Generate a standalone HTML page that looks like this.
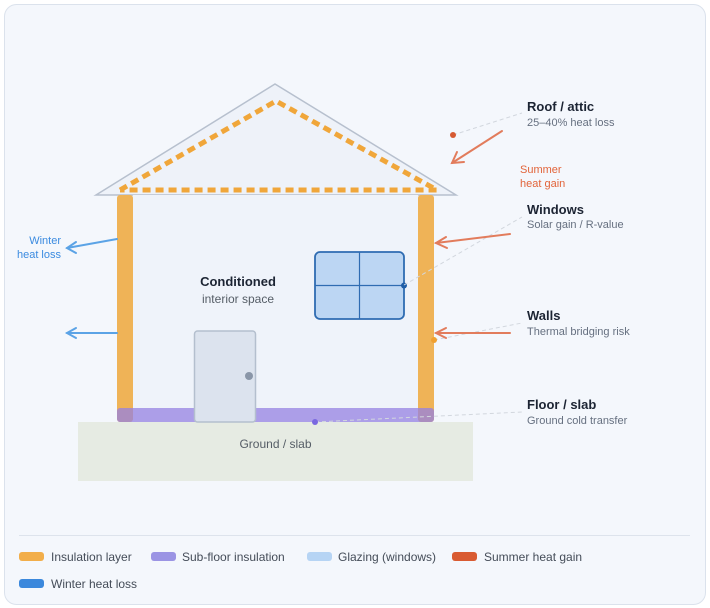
<!DOCTYPE html>
<html><head><meta charset="utf-8"><style>
html,body{margin:0;padding:0;background:#fff;}
svg{display:block;font-family:"Liberation Sans",sans-serif;}
</style></head><body>
<svg width="710" height="608" viewBox="0 0 710 608" xmlns="http://www.w3.org/2000/svg">
<rect x="4.5" y="4.5" width="701" height="600" rx="12" fill="#f4f7fc" stroke="#dbe2ec"/>
<!-- ground -->
<rect x="78" y="422" width="395" height="59" fill="#e6ebe3"/>
<text x="275.5" y="448" text-anchor="middle" font-size="12" fill="#555d66">Ground / slab</text>
<!-- roof -->
<polygon points="96,195 275,84 456,195" fill="#eef2f9" stroke="#b7c0ce" stroke-width="1.5"/>
<polyline points="120,190 276,101 437,190 120,190" fill="none" stroke="#f0a63a" stroke-width="5" stroke-dasharray="8,5"/>
<!-- interior -->
<rect x="133" y="195" width="285" height="213" fill="#eff3fa"/>
<!-- walls -->
<rect x="117" y="195" width="16" height="227" rx="3" fill="#efb357"/>
<rect x="418" y="195" width="16" height="227" rx="3" fill="#efb357"/>
<rect x="117" y="408" width="317" height="14" rx="3" fill="#9480e2" fill-opacity="0.75"/>
<!-- door -->
<rect x="194.5" y="331" width="61" height="91" rx="3" fill="#dce3ee" stroke="#b4bfce" stroke-width="1.5"/>
<circle cx="249" cy="376" r="4" fill="#8a96a8"/>
<!-- window -->
<rect x="315" y="252" width="89" height="67" rx="5" fill="#bcd6f3" stroke="#2f6cb2" stroke-width="1.8"/>
<line x1="359.5" y1="252" x2="359.5" y2="319" stroke="#2f6cb2" stroke-width="1.2"/>
<line x1="315" y1="285.5" x2="404" y2="285.5" stroke="#2f6cb2" stroke-width="1.2"/>
<circle cx="404" cy="285.5" r="3" fill="#1f5ea8"/>
<text x="238" y="286" text-anchor="middle" font-size="13" font-weight="bold" fill="#1c2433">Conditioned</text>
<text x="238" y="303" text-anchor="middle" font-size="12" fill="#555d66">interior space</text>
<!-- leader lines -->
<g stroke="#d2d7de" stroke-width="1" stroke-dasharray="4,3" fill="none">
<line x1="453" y1="135" x2="522" y2="113"/>
<line x1="404" y1="285" x2="522" y2="217"/>
<line x1="434" y1="340" x2="522" y2="323"/>
<line x1="315" y1="422" x2="522" y2="412"/>
</g>
<circle cx="453" cy="135" r="3" fill="#d65a33"/>
<circle cx="434" cy="340" r="3" fill="#f0a030"/>
<circle cx="315" cy="422" r="3" fill="#7a68e0"/>
<!-- summer arrows -->
<g stroke="#e27c5c" stroke-width="2" fill="none" stroke-linecap="round">
<line x1="502" y1="131" x2="452" y2="163"/><polyline points="457,152 452,163 464,162"/>
<line x1="510" y1="234" x2="436" y2="243"/><polyline points="446,237 436,243 447,248"/>
<line x1="510" y1="333" x2="436" y2="333"/><polyline points="446,328 436,333 446,338"/>
</g>
<text x="520" y="173" font-size="11" fill="#e2643a">Summer</text>
<text x="520" y="187" font-size="11" fill="#e2643a">heat gain</text>
<!-- winter arrows -->
<g stroke="#5ba3e6" stroke-width="2" fill="none" stroke-linecap="round">
<line x1="117" y1="239" x2="67" y2="248"/><polyline points="76,242 67,248 76,253"/>
<line x1="117" y1="333" x2="67" y2="333"/><polyline points="76,328 67,333 76,338"/>
</g>
<text x="61" y="244" text-anchor="end" font-size="11" fill="#3b8be0">Winter</text>
<text x="61" y="258" text-anchor="end" font-size="11" fill="#3b8be0">heat loss</text>
<!-- labels -->
<g font-size="13" font-weight="bold" fill="#1c2433">
<text x="527" y="111">Roof / attic</text>
<text x="527" y="214">Windows</text>
<text x="527" y="320">Walls</text>
<text x="527" y="409">Floor / slab</text>
</g>
<g font-size="11" fill="#667080">
<text x="527" y="126">25–40% heat loss</text>
<text x="527" y="228">Solar gain / R-value</text>
<text x="527" y="335">Thermal bridging risk</text>
<text x="527" y="424">Ground cold transfer</text>
</g>
<!-- legend -->
<line x1="19" y1="535.5" x2="690" y2="535.5" stroke="#dde3ec"/>
<g font-size="12" fill="#444c58">
<rect x="19" y="552" width="25" height="9" rx="3" fill="#f2ae4a"/><text x="51" y="561">Insulation layer</text>
<rect x="151" y="552" width="25" height="9" rx="3" fill="#9b94e4"/><text x="182" y="561">Sub-floor insulation</text>
<rect x="307" y="552" width="25" height="9" rx="3" fill="#b6d4f4"/><text x="338" y="561">Glazing (windows)</text>
<rect x="452" y="552" width="25" height="9" rx="3" fill="#d95b32"/><text x="484" y="561">Summer heat gain</text>
<rect x="19" y="579" width="25" height="9" rx="3" fill="#3b88dc"/><text x="51" y="588">Winter heat loss</text>
</g>
</svg>
</body></html>
